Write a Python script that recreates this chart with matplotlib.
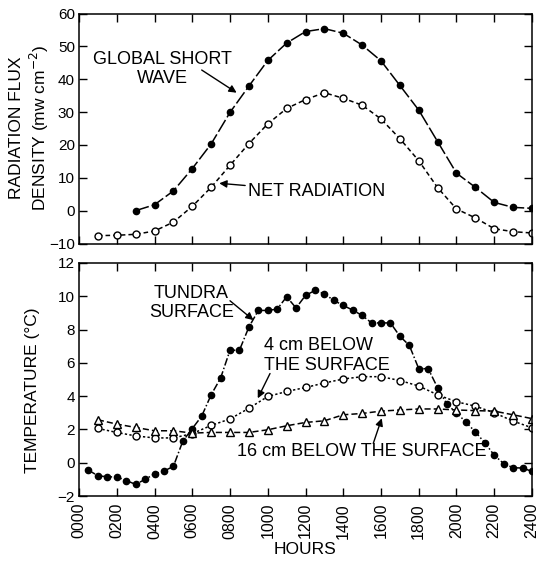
import numpy as np
import matplotlib
matplotlib.use("Agg")
import matplotlib.pyplot as plt

plt.rcParams["font.family"] = ["Liberation Sans", "DejaVu Sans"]

# ==========================
# Data
# ==========================
hours_rad_gsw = [3, 4, 5, 6, 7, 8, 9, 10, 11, 12, 13, 14, 15, 16, 17, 18, 19, 20, 21, 22, 23, 24]
global_short_wave = [0.0, 1.8, 6.0, 12.8, 20.3, 29.9, 37.9, 45.7, 51.0, 54.5, 55.4, 54.0,
                     50.4, 45.6, 38.1, 30.6, 21.0, 11.4, 7.1, 2.5, 1.0, 0.7]

hours_hourly = list(range(1, 25))
net_radiation = [-7.6, -7.5, -7.2, -6.2, -3.5, 1.3, 7.1, 13.8, 20.4, 26.4, 31.1, 33.8,
                 35.9, 34.2, 32.1, 27.9, 21.9, 15.2, 7.0, 0.5, -2.2, -5.5, -6.4, -6.8]

hours_half = [0.5 * i for i in range(1, 49)]
tundra_surface = [-0.45, -0.78, -0.85, -0.85, -1.07, -1.3, -1.0, -0.67, -0.5, -0.22,
                  1.3, 2.05, 2.8, 4.08, 5.08, 6.76, 6.76, 8.15, 9.15, 9.15,
                  9.23, 9.97, 9.3, 10.05, 10.35, 10.15, 9.75, 9.45, 9.17, 8.85,
                  8.4, 8.4, 8.4, 7.6, 7.05, 5.65, 5.65, 4.5, 3.5, 3.0,
                  2.44, 1.85, 1.2, 0.45, -0.05, -0.3, -0.32, -0.52]

below_4cm = [2.06, 1.82, 1.61, 1.49, 1.49, 1.75, 2.24, 2.63, 3.27, 3.98, 4.28, 4.52,
             4.79, 5.03, 5.17, 5.17, 4.94, 4.61, 4.08, 3.66, 3.4, 3.0, 2.5, 2.1]

below_16cm = [2.58, 2.32, 2.12, 1.92, 1.92, 1.78, 1.82, 1.82, 1.82, 1.98, 2.22, 2.42,
              2.52, 2.88, 2.96, 3.1, 3.17, 3.23, 3.23, 3.17, 3.13, 3.1, 2.88, 2.65]

xtick_hours = list(range(0, 25, 2))
xtick_labels = ["%02d00" % h for h in xtick_hours]

# ==========================
# Figure
# ==========================
fig = plt.figure(figsize=(5.39, 5.70), dpi=100)
ax1 = fig.add_axes([0.1466, 0.5728, 0.8404, 0.4035])
ax2 = fig.add_axes([0.1466, 0.1298, 0.8404, 0.4088])

for ax in (ax1, ax2):
    ax.set_xlim(0, 24)
    ax.set_xticks(xtick_hours)
    ax.tick_params(direction="in", length=6, width=1, top=True, right=True,
                   labelsize=11, pad=3)
    for s in ax.spines.values():
        s.set_linewidth(1.1)

ax1.set_xticklabels([])
ax2.set_xticklabels(xtick_labels, rotation=90, fontsize=11.5)
ax2.tick_params(axis="x", pad=5)

# top panel
ax1.plot(hours_rad_gsw, global_short_wave, color="black", lw=1.1,
         linestyle=(0, (9, 2)), marker="o", ms=4.5)
ax1.plot(hours_hourly, net_radiation, color="black", lw=1.1,
         linestyle=(0, (3, 2)), marker="o", ms=5, mfc="white", mew=1)
ax1.set_ylim(-10, 60)
ax1.set_yticks(range(-10, 61, 10))

arrow = dict(arrowstyle="-|>", color="black", lw=1, mutation_scale=11, shrinkA=0, shrinkB=0)
ax1.text(4.4, 43.1, "GLOBAL SHORT\nWAVE", ha="center", va="center", fontsize=13)
ax1.annotate("", xy=(8.35, 35.9), xytext=(6.5, 42.8), arrowprops=arrow)
ax1.annotate("NET RADIATION", xy=(7.43, 8.33), xytext=(8.95, 5.8),
             ha="left", va="center", fontsize=13, arrowprops=arrow)

# bottom panel
ax2.plot(hours_half, tundra_surface, color="black", lw=1.1,
         linestyle=(0, (5, 1.5, 1, 1.5)), marker="o", ms=4.5)
ax2.plot(hours_hourly, below_4cm, color="black", lw=1.1,
         linestyle=(0, (1.5, 1.5)), marker="o", ms=5, mfc="white", mew=1)
ax2.plot(hours_hourly, below_16cm, color="black", lw=1.1,
         linestyle=(0, (4, 2)), marker="^", ms=5.2, mfc="white", mew=1)
ax2.set_ylim(-2, 12)
ax2.set_yticks(range(-2, 13, 2))

ax2.text(5.96, 9.6, "TUNDRA\nSURFACE", ha="center", va="center", fontsize=13)
ax2.annotate("", xy=(9.24, 8.57), xytext=(8.0, 9.73), arrowprops=arrow)
ax2.text(9.8, 6.45, "4 cm BELOW\nTHE SURFACE", ha="left", va="center", fontsize=13)
ax2.annotate("", xy=(9.47, 3.87), xytext=(10.12, 5.36), arrowprops=arrow)
ax2.text(8.35, 0.66, "16 cm BELOW THE SURFACE", ha="left", va="center", fontsize=13)
ax2.annotate("", xy=(16.04, 2.67), xytext=(15.59, 1.16), arrowprops=arrow)

# axis labels
fig.text(0.055, 1 - 128 / 570, "RADIATION FLUX\nDENSITY (mw cm$^{-2}$)", rotation=90,
         ha="center", va="center", fontsize=12.5, multialignment="center")
fig.text(0.060, 1 - 390 / 570, "TEMPERATURE (°C)", rotation=90,
         ha="center", va="center", fontsize=12.5)
fig.text(305 / 539, 1 - 550 / 570, "HOURS", ha="center", va="center", fontsize=12.5)

fig.savefig("out.png", dpi=100)
